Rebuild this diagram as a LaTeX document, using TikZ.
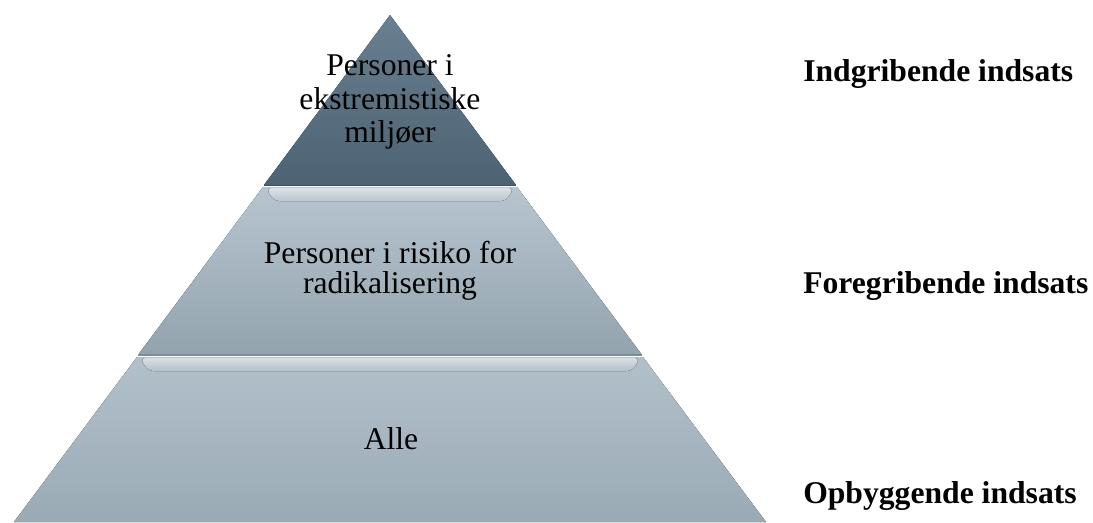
\documentclass[tikz,border=0pt]{standalone}
\usepackage{fontspec}
\setmainfont{Liberation Serif}
\usepackage{tikz}
\usetikzlibrary{positioning}

\definecolor{tiptop}{HTML}{6A7F8F}
\definecolor{tipbottom}{HTML}{4C6373}
\definecolor{midtop}{HTML}{B7C5CF}
\definecolor{midbottom}{HTML}{93A3AE}
\definecolor{basetop}{HTML}{B2C0CA}
\definecolor{basebottom}{HTML}{9AAAB5}
\definecolor{sheen}{HTML}{F2F8FC}
\definecolor{seam}{HTML}{7D8D98}

\tikzset{
  level text/.style={align=center, inner sep=0pt, font=\fontsize{22.5}{23.8}\selectfont},
  effort label/.style={anchor=base west, inner sep=0pt, font=\fontsize{22.5}{27}\selectfont\bfseries},
  bevel/.style={top color=#1!50!white, middle color=sheen, bottom color=#1, rounded corners=4pt},
}

\begin{document}
\begin{tikzpicture}[x=0.025cm, y=-0.025cm]
\useasboundingbox (0,0) rectangle (1093,522);

% pyramid layers
\fill[top color=tiptop, bottom color=tipbottom] (390,15) -- (516,185) -- (264,185) -- cycle;
\draw[tipbottom!80!black, line width=0.6pt] (264,185) -- (516,185);

\fill[top color=midtop, bottom color=midbottom] (263,187) -- (517,187) -- (642,355) -- (138,355) -- cycle;
\draw[seam, line width=0.8pt] (138,355) -- (642,355);
\fill[bevel=midtop] (266,188) -- (514,188) -- (506,201) -- (274,201) -- cycle;

\fill[top color=basetop, bottom color=basebottom] (137,357) -- (643,357) -- (766,522) -- (14,522) -- cycle;
\fill[bevel=basetop] (140,358) -- (640,358) -- (632,371) -- (148,371) -- cycle;

% texts in the layers
\node[level text] (level-top) at (390,102) {Personer i\\ekstremistiske\\miljøer};
\node[level text, font=\fontsize{22.5}{21.3}\selectfont] (level-mid) at (390,271) {Personer i risiko for\\radikalisering};
\node[level text] (level-base) at (391,439) {Alle};

% efforts on the right
\foreach \txt/\yy [count=\i] in {Indgribende indsats/81, Foregribende indsats/293, Opbyggende indsats/503}
  \node[effort label] (effort-\i) at (803,\yy) {\txt};

\end{tikzpicture}
\end{document}
